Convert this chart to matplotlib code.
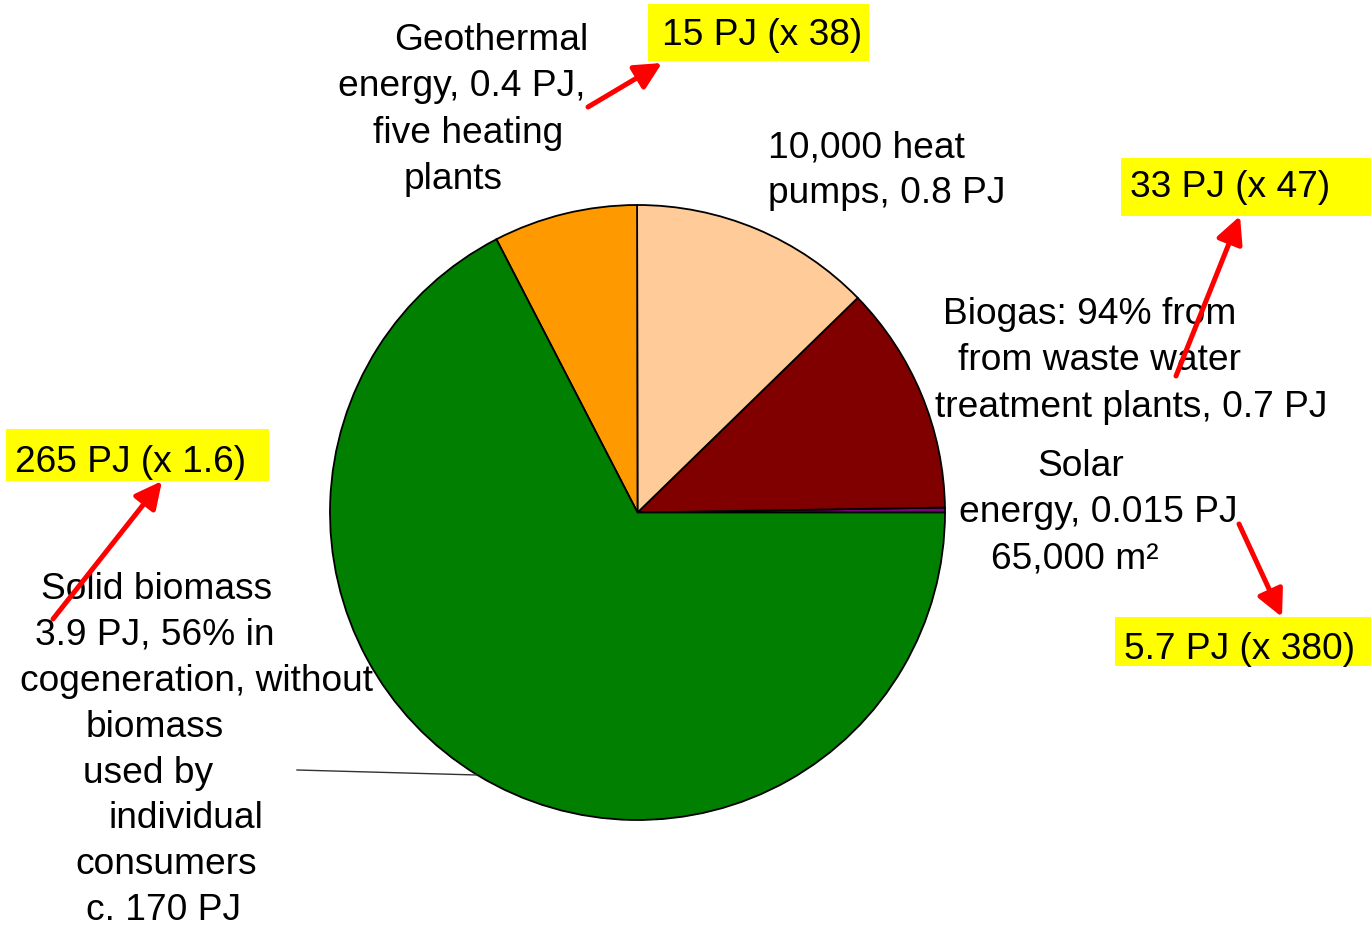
import matplotlib
matplotlib.use("Agg")
import matplotlib.pyplot as plt
from matplotlib.patches import Rectangle

plt.rcParams['font.family'] = ['Liberation Sans', 'DejaVu Sans']

# slice values (PJ), counter-clockwise from 3 o'clock
sources = ['Solar', 'Biogas', 'Heat pumps', 'Geothermal', 'Solid biomass']
values = [0.015, 0.7, 0.74, 0.44, 3.92]
colors = ['#800080', '#800000', '#FFCC99', '#FF9900', '#007F00']

# 2007 -> target annotations
targets = ['15 PJ (x 38)', '33 PJ (x 47)', '265 PJ (x 1.6)', '5.7 PJ (x 380)']

W, H = 1371, 928
FS = 26.7
LS = 46.3

fig = plt.figure(figsize=(W / 100, H / 100), dpi=100)
ax = fig.add_axes([0, 0, 1, 1])

ax.pie(values, colors=colors, startangle=0, counterclock=False,
       center=(637.5, 513.5), radius=307.5,
       wedgeprops=dict(edgecolor='black', linewidth=1.3))
ax.set_xlim(0, W)
ax.set_ylim(H, 0)
ax.set_aspect('equal')
ax.axis('off')


def block(lines, first_baseline, ha='center', ls=LS):
    # lines: list of (text, x)
    for i, (t, x) in enumerate(lines):
        ax.text(x, first_baseline + i * ls, t, fontsize=FS, ha=ha, va='baseline')


block([('Geothermal', 491), ('energy, 0.4 PJ,', 462), ('five heating', 468), ('plants', 453)], 50)
block([('10,000 heat', 768), ('pumps, 0.8 PJ', 768)], 157, ha='left')
block([('Biogas: 94% from', 1090), ('from waste water', 1100),
       ('treatment plants, 0.7 PJ', 1131)], 324)
block([('Solar', 1081), ('energy, 0.015 PJ', 1098), ('65,000 m²', 1075)], 476)
block([('Solid biomass', 157), ('3.9 PJ, 56% in', 155), ('cogeneration, without', 197),
       ('biomass', 155), ('used by', 148), ('individual', 186), ('consumers', 166),
       ('c. 170 PJ', 163)], 599, ls=45.9)

# yellow boxes
boxes = [(648, 5, 221, 57, 662, 45),
         (1121, 159, 250, 58, 1130, 197),
         (6, 430, 263, 52, 15, 472),
         (1115, 618, 256, 49, 1124, 659)]
for label, (bx, by, bw, bh, tx, ty) in zip(targets, boxes):
    ax.add_patch(Rectangle((bx, by), bw, bh, facecolor='#FFFF00', edgecolor='none', zorder=3))
    ax.text(tx, ty, label, fontsize=FS, ha='left', va='baseline', zorder=4)

# red arrows
arrows = [((588, 108), (662, 64)),
          ((1176, 377), (1240, 217)),
          ((53, 620), (162, 482)),
          ((1239, 525), (1282, 618))]
for tail, head in arrows:
    ax.annotate('', xy=head, xytext=tail, zorder=5,
                arrowprops=dict(arrowstyle='-|>,head_length=0.9,head_width=0.45',
                                color='#FF0000', lw=3.6, mutation_scale=18,
                                shrinkA=0, shrinkB=0))

# leader line for solid biomass
ax.plot([297, 477], [771, 776], color='#333333', lw=1)

plt.savefig('out.png', dpi=100)
